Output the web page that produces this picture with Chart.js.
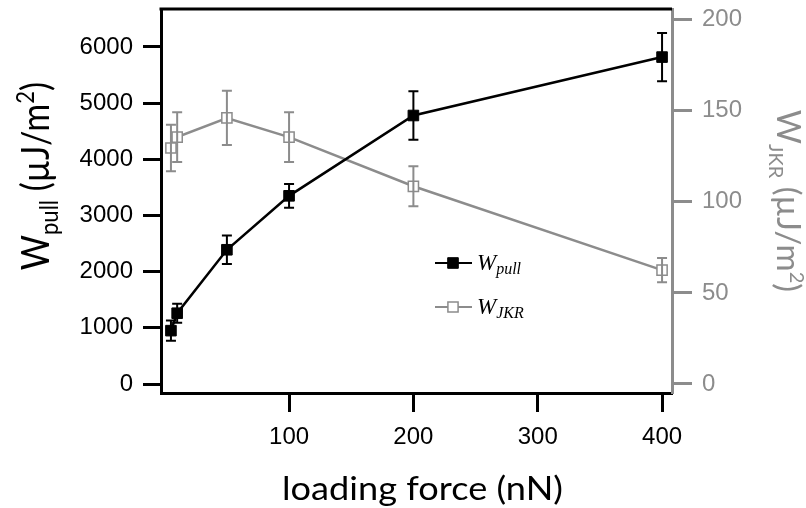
<!DOCTYPE html>
<html>
<head>
<meta charset="utf-8">
<script src="https://cdn.jsdelivr.net/npm/chart.js@4.4.1/dist/chart.umd.min.js"></script>
<style>
  html, body { margin: 0; padding: 0; background: #fff; }
  #wrap { width: 806px; height: 508px; }
</style>
</head>
<body>
<div id="wrap"><canvas id="c" width="806" height="508"></canvas></div>
<script>
// Loading force (nN) and the two work-of-adhesion series with their error bars
const loadingForce = [5, 10, 50, 100, 200, 400];
const wPull    = [950, 1260, 2390, 3350, 4780, 5820];   // µJ/m²
const wPullErr = [180, 170, 255, 210, 430, 430];
const wJkr     = [129.5, 135.5, 146, 135.5, 108.5, 62.5]; // µJ/m²
const wJkrErr  = [12.8, 13.7, 14.9, 13.7, 11, 6.7];

const xTicks    = [100, 200, 300, 400];
const pullTicks = [0, 1000, 2000, 3000, 4000, 5000, 6000];
const jkrTicks  = [0, 50, 100, 150, 200];

const BLACK = '#000000';
const GREY = '#8c8c8c';
const TICK_FONT = { family: '"Liberation Sans", Arial, sans-serif', size: 24 };
const TITLE_FAMILY = 'Lato, "Open Sans", sans-serif';

const toPoints = (ys) => loadingForce.map((x, i) => ({ x: x, y: ys[i] }));
const plain = (v) => String(v);

// Vertical error bars with caps, drawn right after each dataset
const errorBars = {
  id: 'errorBars',
  afterDatasetDraw(chart, args) {
    const ds = chart.data.datasets[args.index];
    if (!ds.errors) return;
    const ys = chart.scales[ds.yAxisID];
    const ctx = chart.ctx;
    ctx.save();
    ctx.strokeStyle = ds.borderColor;
    ctx.lineWidth = 2;
    args.meta.data.forEach((pt, i) => {
      const v = ds.data[i].y, e = ds.errors[i];
      const y1 = ys.getPixelForValue(v + e);
      const y2 = ys.getPixelForValue(v - e);
      const x = pt.x, w = 5;
      ctx.beginPath();
      ctx.moveTo(x, y1); ctx.lineTo(x, y2);
      ctx.moveTo(x - w, y1); ctx.lineTo(x + w, y1);
      ctx.moveTo(x - w, y2); ctx.lineTo(x + w, y2);
      ctx.stroke();
    });
    ctx.restore();
  }
};

// Draws a run of text pieces (with sub/superscripts) centred on (cx, cy);
// sx widens the text horizontally on screen before the rotation is applied
function drawRich(ctx, parts, cx, cy, angle, color, sx) {
  ctx.save();
  ctx.translate(cx, cy);
  ctx.scale(sx || 1, 1);
  ctx.rotate(angle);
  ctx.fillStyle = color;
  ctx.textBaseline = 'alphabetic';
  ctx.textAlign = 'left';
  let total = 0;
  parts.forEach(p => { ctx.font = p.font; p.w = ctx.measureText(p.text).width; total += p.w; });
  let x = -total / 2;
  parts.forEach(p => { ctx.font = p.font; ctx.fillText(p.text, x, p.dy || 0); x += p.w; });
  ctx.restore();
}

// Top frame line, axis titles and the inline legend
const decorations = {
  id: 'decorations',
  afterDraw(chart) {
    const ctx = chart.ctx;
    const a = chart.chartArea;
    ctx.save();
    ctx.strokeStyle = BLACK;
    ctx.lineWidth = 3;
    ctx.beginPath();
    ctx.moveTo(a.left - 1.5, a.top);
    ctx.lineTo(a.right, a.top);
    ctx.stroke();
    ctx.restore();

    // x title
    drawRich(ctx, [{ text: 'loading force (nN)', font: '32px ' + TITLE_FAMILY }],
      (a.left + a.right) / 2 + 6, a.bottom + 107, 0, BLACK, 1.13);

    // left title
    const big = '34px ' + TITLE_FAMILY, small = '22px ' + TITLE_FAMILY;
    drawRich(ctx, [
      { text: 'W', font: big },
      { text: 'pull', font: small, dy: 8 },
      { text: ' (µJ/m', font: big },
      { text: '2', font: small, dy: -13 },
      { text: ')', font: big }
    ], 49, 176, -Math.PI / 2, BLACK, 1.12);

    // right title
    const big2 = '33px ' + TITLE_FAMILY, small2 = '20px ' + TITLE_FAMILY;
    drawRich(ctx, [
      { text: 'W', font: big2 },
      { text: 'JKR', font: small2, dy: 8 },
      { text: ' (µJ/m', font: big2 },
      { text: '2', font: small2, dy: -13 },
      { text: ')', font: big2 }
    ], 777, 201, Math.PI / 2, GREY);

    // legend
    const rows = [
      { ds: chart.data.datasets[0], sub: 'pull', y: a.top + 254 },
      { ds: chart.data.datasets[1], sub: 'JKR', y: a.top + 298 }
    ];
    rows.forEach(r => {
      const x0 = a.left + 274, x1 = a.left + 311, xm = a.left + 292;
      ctx.save();
      ctx.strokeStyle = r.ds.borderColor;
      ctx.lineWidth = 2;
      ctx.beginPath(); ctx.moveTo(x0, r.y); ctx.lineTo(x1, r.y); ctx.stroke();
      ctx.fillStyle = r.ds.pointBackgroundColor;
      ctx.strokeStyle = r.ds.pointBorderColor;
      ctx.lineWidth = r.ds.pointBorderWidth;
      Chart.helpers.drawPoint(ctx, {
        pointStyle: 'rect', radius: r.ds.pointRadius, borderWidth: r.ds.pointBorderWidth, rotation: 0
      }, xm, r.y);
      ctx.fillStyle = BLACK;
      ctx.textBaseline = 'alphabetic';
      ctx.font = 'italic 23px "Liberation Serif", "Times New Roman", serif';
      const tx = a.left + 316, by = r.y + 7;
      ctx.fillText('W', tx, by);
      const ww = ctx.measureText('W').width;
      ctx.font = 'italic 16px "Liberation Serif", "Times New Roman", serif';
      ctx.fillText(r.sub, tx + ww, by + 4);
      ctx.restore();
    });
  }
};

const setTicks = (list) => (scale) => { scale.ticks = list.map(v => ({ value: v })); };
const fixBox = (prop, size) => (s) => {
  s[prop] = size;
  s.paddingTop = 0; s.paddingBottom = 0; s.paddingLeft = 0; s.paddingRight = 0;
};

new Chart(document.getElementById('c'), {
  type: 'line',
  data: {
    datasets: [
      {
        label: 'W_pull',
        data: toPoints(wPull),
        errors: wPullErr,
        yAxisID: 'yP',
        borderColor: BLACK,
        backgroundColor: BLACK,
        borderWidth: 2.5,
        pointStyle: 'rect',
        pointRadius: 7.5,
        pointBorderWidth: 1,
        pointBackgroundColor: BLACK,
        pointBorderColor: BLACK,
        tension: 0
      },
      {
        label: 'W_JKR',
        data: toPoints(wJkr),
        errors: wJkrErr,
        yAxisID: 'yJ',
        borderColor: GREY,
        backgroundColor: '#ffffff',
        borderWidth: 2.5,
        pointStyle: 'rect',
        pointRadius: 7.2,
        pointBorderWidth: 1.5,
        pointBackgroundColor: '#ffffff',
        pointBorderColor: GREY,
        tension: 0
      }
    ]
  },
  options: {
    responsive: false,
    animation: false,
    layout: { padding: { top: 9, left: 0, right: 0, bottom: 0 } },
    plugins: { legend: { display: false }, tooltip: { enabled: false } },
    scales: {
      x: {
        type: 'linear',
        position: 'bottom',
        min: -3,
        max: 408,
        afterBuildTicks: setTicks(xTicks),
        afterFit: fixBox('height', 115),
        grid: { display: true, drawOnChartArea: false, drawTicks: true, tickLength: 19, tickWidth: 3, tickColor: BLACK },
        border: { display: true, color: BLACK, width: 3 },
        ticks: { font: TICK_FONT, color: BLACK, padding: 11, maxRotation: 0, callback: plain }
      },
      yP: {
        type: 'linear',
        position: 'left',
        min: -160,
        max: 6676,
        afterBuildTicks: setTicks(pullTicks),
        afterFit: fixBox('width', 161),
        grid: { display: true, drawOnChartArea: false, drawTicks: true, tickLength: 18, tickWidth: 3, tickColor: BLACK },
        border: { display: true, color: BLACK, width: 3 },
        ticks: { font: TICK_FONT, color: BLACK, padding: 10, callback: plain }
      },
      yJ: {
        type: 'linear',
        position: 'right',
        min: -4.95,
        max: 205.8,
        afterBuildTicks: setTicks(jkrTicks),
        afterFit: fixBox('width', 134),
        grid: { display: true, drawOnChartArea: false, drawTicks: true, tickLength: 20, tickWidth: 3, tickColor: GREY },
        border: { display: true, color: GREY, width: 3 },
        ticks: { font: TICK_FONT, color: GREY, padding: 10, callback: plain }
      }
    }
  },
  plugins: [errorBars, decorations]
});
</script>
</body>
</html>
